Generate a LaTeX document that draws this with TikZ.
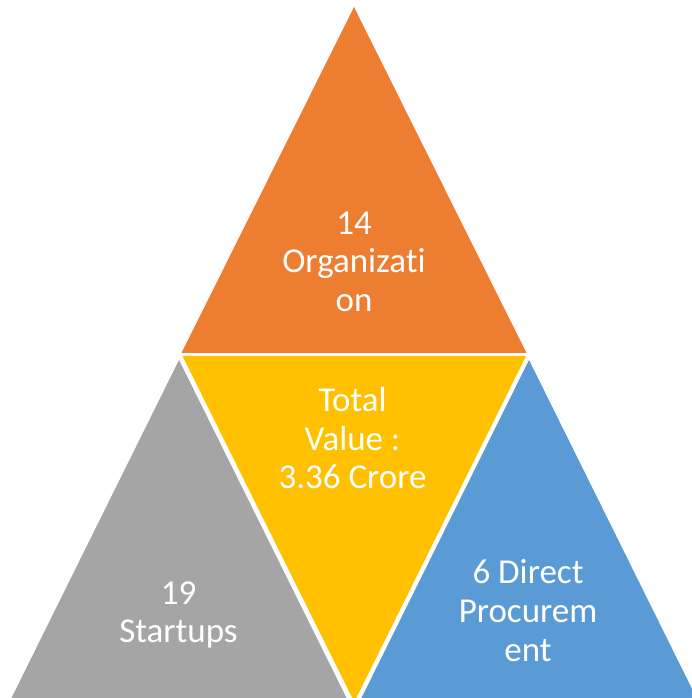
\documentclass[tikz,border=0pt]{standalone}
\usepackage{fontspec}
\setmainfont{Carlito}[Ligatures=NoCommon]
\definecolor{orangeT}{HTML}{ED7D31}
\definecolor{yellowT}{HTML}{FFC000}
\definecolor{grayT}{HTML}{A5A5A5}
\definecolor{blueT}{HTML}{5B9BD5}
\begin{document}
\begin{tikzpicture}[x=1pt,y=1pt,
  lbl/.style={text=white,font=\fontsize{35}{38.5}\selectfont,anchor=base,inner sep=0pt}]
\useasboundingbox (0,0) rectangle (692,698);
\clip (0,0) rectangle (692,698);
% triangles
\fill[orangeT] (354,691) -- (526.5,345) -- (181.5,345) -- cycle;
\fill[yellowT] (182.5,342) -- (526,342) -- (354.3,-4) -- cycle;
\fill[grayT] (179,338) -- (350.5,-8) -- (7.5,-8) -- cycle;
\fill[blueT] (529,338) -- (700.5,-8) -- (357.5,-8) -- cycle;
% orange texts
\node[lbl] (o1) at (354,463) {14};
\node[lbl] (o2) at (354,425) {Organizati};
\node[lbl] (o3) at (354,386) {on};
% yellow texts
\node[lbl] (y1) at (352.5,286) {Total};
\node[lbl] (y2) at (352.5,247) {Value :};
\node[lbl] (y3) at (352.5,209) {3.36 Crore};
% gray texts
\node[lbl] (g1) at (178.5,93) {19};
\node[lbl] (g2) at (178.5,55) {Startups};
% blue texts
\node[lbl] (b1) at (528,114) {6 Direct};
\node[lbl] (b2) at (528,75) {Procurem};
\node[lbl] (b3) at (528,36) {ent};
\end{tikzpicture}
\end{document}
